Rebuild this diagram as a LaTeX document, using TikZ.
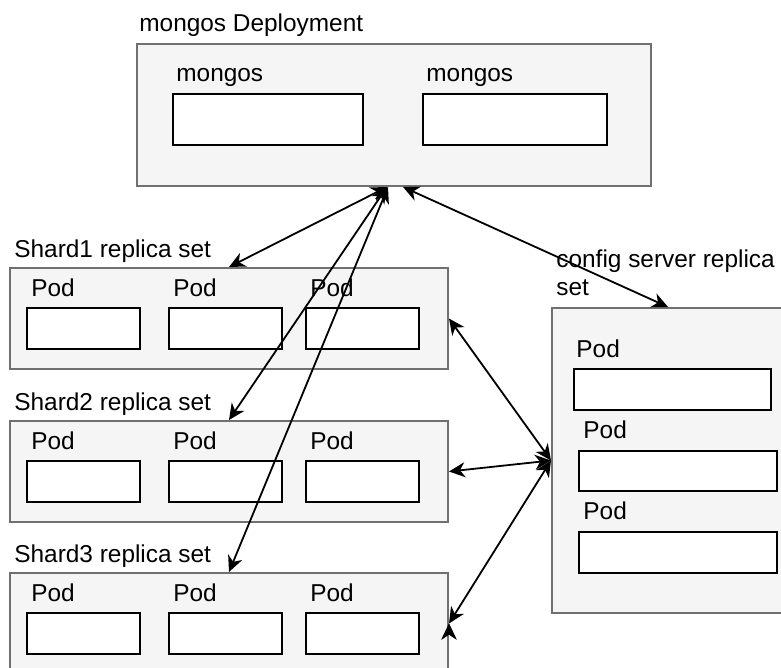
\documentclass[tikz,border=0pt]{standalone}
\usepackage{fontspec}
\setmainfont{Liberation Sans}
\usepackage{tikz}
\usetikzlibrary{arrows.meta}
\definecolor{boxfill}{HTML}{F5F5F5}
\definecolor{boxline}{HTML}{707070}
\tikzset{
  setbox/.style={draw=boxline,fill=boxfill,line width=1pt,inner sep=0pt,anchor=north west,
    minimum width=219pt,minimum height=50.5pt},
  podbox/.style={draw=black,fill=white,line width=1.2pt,inner sep=0pt,anchor=north west,
    minimum width=56.5pt,minimum height=20.5pt},
  lbl/.style={anchor=base west,inner sep=0pt,font=\fontsize{12.2}{14}\selectfont},
  link/.style={{Stealth[length=8pt,width=7.5pt,inset=2.5pt]}-{Stealth[length=8pt,width=7.5pt,inset=2.5pt]},line width=0.9pt},
}

\begin{document}
\begin{tikzpicture}[x=0.5pt,y=-0.5pt]
    \useasboundingbox (0,0) rectangle (781,668);
    \clip (0,0) rectangle (781,668);
    \node[setbox,minimum width=257pt,minimum height=71pt] (dep) at (136,43) {};
    \node[lbl] (dep-label) at (139,32) {mongos Deployment};
    \node[podbox,minimum width=95pt,minimum height=25.5pt] (mongos1) at (172,93) {};
    \node[podbox,minimum width=92pt,minimum height=25.5pt] (mongos2) at (422,93) {};
    \node[lbl] (mongos1-label) at (176,82) {mongos};
    \node[lbl] (mongos2-label) at (426,82) {mongos};
    \foreach \i/\y in {1/267,2/420,3/572} {
      \node[setbox] (shard\i) at (9,\y) {};
      \node[lbl] (shard\i-label) at (14,\y-10) {Shard\i{} replica set};
      \foreach \x [count=\j] in {26,168,305} {
        \node[podbox] (shard\i-pod\j) at (\x,\y+40) {};
        \node[lbl] (shard\i-pod\j-label) at (\x+5,\y+29) {Pod};
      }
    }
    \node[setbox,minimum width=116pt,minimum height=152.5pt] (cfg) at (551,307) {};
    \node[lbl,align=left] (cfg-label) at (556,295) {config server replica\\set};
    \node[podbox,minimum width=98.5pt] (cfg-pod1) at (573,368) {};
    \node[podbox,minimum width=99pt,minimum height=20pt] (cfg-pod2) at (578,450) {};
    \node[podbox,minimum width=99pt] (cfg-pod3) at (578,531) {};
    \node[lbl] (cfg-pod1-label) at (576,357) {Pod};
    \node[lbl] (cfg-pod2-label) at (583,438) {Pod};
    \node[lbl] (cfg-pod3-label) at (583,519) {Pod};
    \draw[link]
    (shard1.north) edge ([xshift=-3.5pt]dep.south)
    (shard2.north) edge ([xshift=-3.5pt]dep.south)
    (shard3.north) edge ([xshift=-3pt]dep.south)
    ([xshift=4.5pt]dep.south) edge (cfg.north)
    (shard1.east) edge (cfg.west)
    (shard2.east) edge (cfg.west)
    (shard3.east) edge (cfg.west);
  \end{tikzpicture}
\end{document}
